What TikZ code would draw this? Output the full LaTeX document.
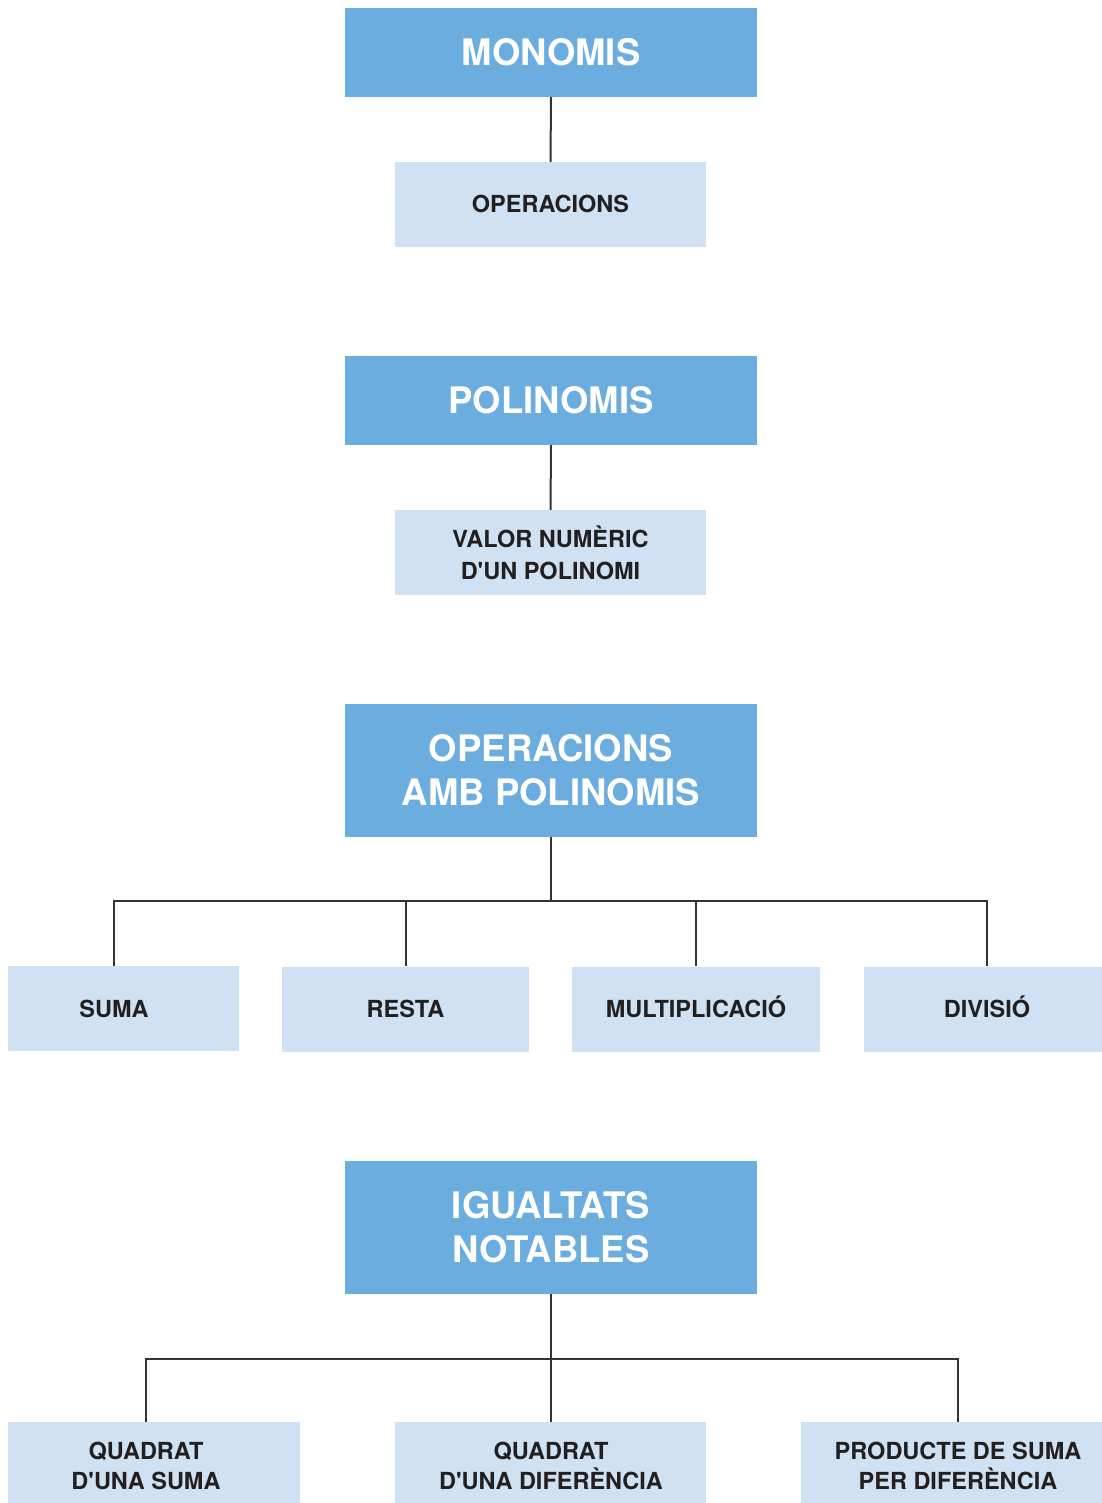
\documentclass[tikz,border=0pt]{standalone}
\usepackage{fontspec}
\setmainfont{TeX Gyre Heros}
\definecolor{headblue}{HTML}{6BADDF}
\definecolor{subblue}{HTML}{CFE1F2}
\definecolor{inkdark}{HTML}{231F20}
\definecolor{linegray}{HTML}{333333}
\newcommand{\apos}{\textquotesingle}
\begin{document}
\begin{tikzpicture}[x=1pt,y=-1pt,
  head/.style={fill=headblue, draw=none, text=white, align=center,
    minimum width=412pt, inner sep=0pt,
    font=\fontsize{36.5}{44}\selectfont\bfseries},
  sub/.style={fill=subblue, draw=none, text=inkdark, align=center,
    inner sep=0pt, font=\fontsize{23.5}{32}\selectfont\bfseries},
  oneline/.style={text height=17pt, text depth=0pt},
  subtext/.style={text=inkdark, align=center, inner sep=0pt,
    font=\fontsize{23.5}{30}\selectfont\bfseries},
  link/.style={draw=linegray, line width=2pt}]
\useasboundingbox (0,0) rectangle (1101,1503);

% --- Monomis ---
\node[head, minimum height=89pt] (mon) at (551,52.5) {MONOMIS};
\node[sub, oneline, minimum width=311pt, minimum height=85pt] (monop) at (550.5,204.5) {OPERACIONS};
\draw[link] (mon.south) -- (monop.north);

% --- Polinomis ---
\node[head, minimum height=89pt] (pol) at (551,400.5) {POLINOMIS};
\node[sub, minimum width=311pt, minimum height=85pt] (valor) at (550.5,552.5) {VALOR NUMÈRIC\\D\apos UN POLINOMI};
\draw[link] (pol.south) -- (valor.north);

% --- Operacions amb polinomis ---
\node[head, minimum height=133pt] (opp) at (551,770.5) {OPERACIONS\\AMB POLINOMIS};
\coordinate (busA) at (551,901);
\node[sub, minimum width=231pt, minimum height=85pt] (sumabox) at (123.5,1008.5) {};
\node[subtext, oneline] (suma) at (114,1009) {SUMA};
\node[sub, oneline, minimum width=247pt, minimum height=85pt] (resta) at (405.5,1009) {RESTA};
\node[sub, oneline, minimum width=248pt, minimum height=85pt] (mult) at (696,1009) {MULTIPLICACIÓ};
\node[sub, oneline, minimum width=246pt, minimum height=85pt] (divi) at (987,1009) {DIVISIÓ};
\draw[link] (opp.south) -- (busA);
\draw[link] (suma |- sumabox.north) -- (suma |- busA) -- (divi.north |- busA) -- (divi.north);
\draw[link] (resta.north) -- (resta.north |- busA);
\draw[link] (mult.north) -- (mult.north |- busA);

% --- Igualtats notables ---
\node[head, minimum height=133pt] (igu) at (551,1227) {IGUALTATS\\NOTABLES};
\coordinate (busB) at (551,1359);
\node[sub, minimum width=292pt, minimum height=81pt] (qsbox) at (154,1462.5) {};
\node[subtext] (qsuma) at (146,1466) {QUADRAT\\D\apos UNA SUMA};
\node[sub, minimum width=311pt, minimum height=81pt] (qdbox) at (550.5,1462.5) {};
\node[subtext] (qdif) at (551,1466) {QUADRAT\\D\apos UNA DIFERÈNCIA};
\node[sub, minimum width=314pt, minimum height=81pt] (prbox) at (958,1462.5) {};
\node[subtext] (prod) at (958,1466) {PRODUCTE DE SUMA\\PER DIFERÈNCIA};
\draw[link] (igu.south) -- (qdif |- qdbox.north);
\draw[link] (qsuma |- qsbox.north) -- (qsuma |- busB) -- (prod |- busB) -- (prod |- prbox.north);
\end{tikzpicture}
\end{document}
